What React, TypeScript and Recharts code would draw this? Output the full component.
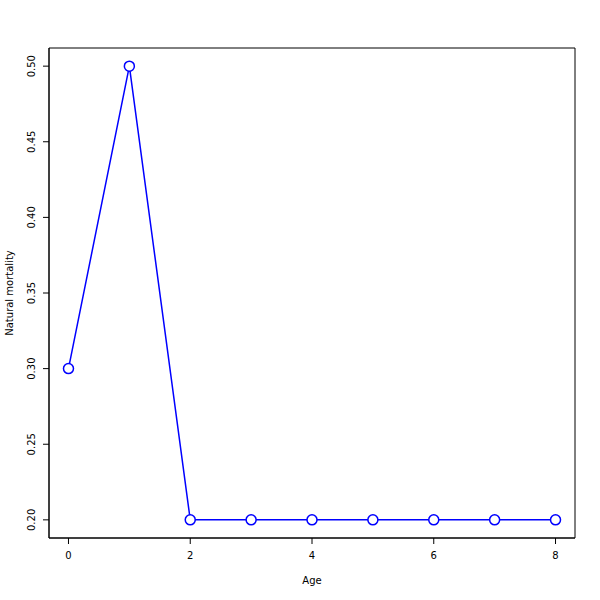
import { ComposedChart, Line, XAxis, YAxis, ReferenceArea } from 'recharts';

const ages = [0, 1, 2, 3, 4, 5, 6, 7, 8];
const mortality = [0.3, 0.5, 0.2, 0.2, 0.2, 0.2, 0.2, 0.2, 0.2];
const xTicks = [0, 2, 4, 6, 8];
const yTicks = [0.2, 0.25, 0.3, 0.35, 0.4, 0.45, 0.5];

const data = ages.map((a, i) => ({ age: a, m: mortality[i] }));

const FONT = 'DejaVu Sans, sans-serif';

function YTick(props: any) {
  const { x, y, payload } = props;
  return (
    <text
      x={x}
      y={y}
      transform={`rotate(-90, ${x}, ${y})`}
      textAnchor="middle"
      fontSize={10}
      fontFamily={FONT}
      fill="#000"
    >
      {payload.value.toFixed(2)}
    </text>
  );
}

export default function App() {
  return (
    <div style={{ position: 'absolute', left: 0, top: 0, width: 600, height: 600, background: '#fff' }}>
      <ComposedChart
        width={600}
        height={600}
        data={data}
        margin={{ top: 48, right: 25, bottom: 0, left: 0 }}
      >
        <XAxis
          dataKey="age"
          type="number"
          domain={[-0.32, 8.32]}
          ticks={xTicks}
          height={62}
          tickSize={6}
          tickMargin={8}
          stroke="#000"
          tick={{ fill: '#000', fontSize: 10, fontFamily: FONT }}
          label={{ value: 'Age', position: 'insideBottom', offset: 16, fill: '#000', fontSize: 10, fontFamily: FONT }}
        />
        <YAxis
          type="number"
          domain={[0.188, 0.512]}
          ticks={yTicks}
          width={49}
          tickSize={6}
          tickMargin={8}
          stroke="#000"
          tick={<YTick />}
        />
        <ReferenceArea x1={-0.32} x2={8.32} y1={0.188} y2={0.512} fill="none" stroke="#000" strokeWidth={1} />
        <Line
          dataKey="m"
          type="linear"
          stroke="#0000ff"
          strokeWidth={1.5}
          dot={{ r: 5, fill: '#fff', stroke: '#0000ff', strokeWidth: 1.5 }}
          activeDot={false}
          isAnimationActive={false}
        />
      </ComposedChart>
      <svg width={30} height={600} style={{ position: 'absolute', left: 0, top: 0, overflow: 'visible' }}>
        <text
          x={13}
          y={293}
          transform="rotate(-90, 13, 293)"
          textAnchor="middle"
          fontSize={10}
          fontFamily={FONT}
          fill="#000"
        >
          Natural mortality
        </text>
      </svg>
    </div>
  );
}
